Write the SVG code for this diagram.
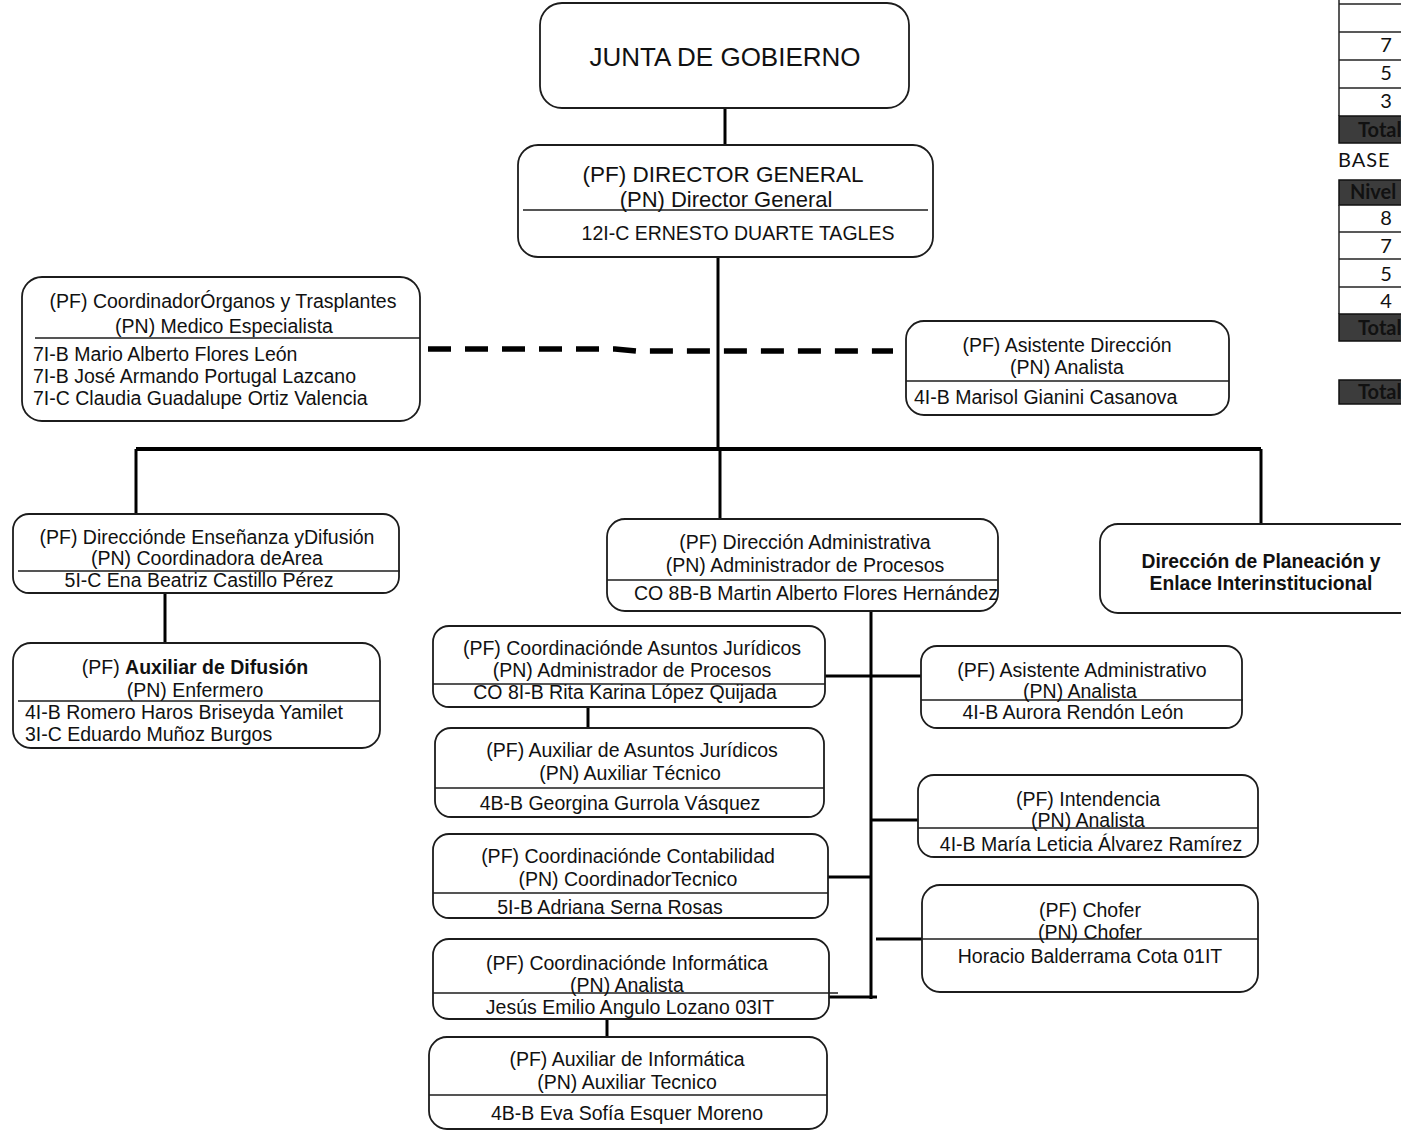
<svg xmlns="http://www.w3.org/2000/svg" width="1401" height="1130" viewBox="0 0 1401 1130">
<style>
.box{fill:#fff;stroke:#1c1c1c;stroke-width:1.8}
.dv{stroke:#1c1c1c;stroke-width:1.6}
text{font-family:"Liberation Sans",Arial,sans-serif;font-size:19.5px;fill:#111}
.c{text-anchor:middle}
.b{font-weight:bold}
.conn line,.conn polyline{stroke:#000;stroke-width:3;fill:none}
.tb text{font-family:Lato,"Open Sans",sans-serif;font-size:20px;fill:#111}
.tb .dk{fill:#3c3c3c;stroke:#111;stroke-width:1.5}
.tb .ln{stroke:#222;stroke-width:1.5}
</style>
<rect width="1401" height="1130" fill="#fff"/>

<g id="connectors" class="conn">
<line x1="725" y1="108" x2="725" y2="145"/>
<line x1="718" y1="257" x2="718" y2="449"/>
<line x1="136" y1="449" x2="1261" y2="449" style="stroke-width:4"/>
<line x1="136" y1="449" x2="136" y2="514"/>
<line x1="720" y1="449" x2="720" y2="519"/>
<line x1="1261" y1="449" x2="1261" y2="524"/>
<polyline points="428,349 615,349 637,351 893,351" style="stroke-width:5.5;stroke-dasharray:23 14"/>
<line x1="165" y1="593" x2="165" y2="643"/>
<line x1="871" y1="611" x2="871" y2="999"/>
<line x1="825" y1="676" x2="921" y2="676"/>
<line x1="588" y1="707" x2="588" y2="728"/>
<line x1="871" y1="820" x2="918" y2="820"/>
<line x1="828" y1="877" x2="871" y2="877"/>
<line x1="876" y1="939" x2="922" y2="939"/>
<line x1="829" y1="997" x2="877" y2="997"/>
<line x1="607" y1="1019" x2="607" y2="1037"/>
</g>

<g id="junta">
<rect class="box" x="540" y="3" width="369" height="105" rx="22"/>
<text class="c" x="725" y="66" style="font-size:26px">JUNTA DE GOBIERNO</text>
</g>

<g id="director-general">
<rect class="box" x="518" y="145" width="415" height="112" rx="20"/>
<line class="dv" x1="523" y1="210" x2="928" y2="210"/>
<text class="c" x="723" y="182" style="font-size:22.5px">(PF) DIRECTOR GENERAL</text>
<text class="c" x="726" y="207" style="font-size:22px">(PN) Director General</text>
<text class="c" x="738" y="240">12I-C ERNESTO DUARTE TAGLES</text>
</g>

<g id="organos">
<rect class="box" x="22" y="277" width="398" height="144" rx="20"/>
<line class="dv" x1="35" y1="338" x2="420" y2="338"/>
<text class="c" x="223" y="308">(PF) CoordinadorÓrganos y Trasplantes</text>
<text class="c" x="224" y="333">(PN) Medico Especialista</text>
<text x="33" y="361">7I-B Mario Alberto Flores León</text>
<text x="33" y="383">7I-B José Armando Portugal Lazcano</text>
<text x="33" y="405">7I-C Claudia Guadalupe Ortiz Valencia</text>
</g>

<g id="asistente-direccion">
<rect class="box" x="906" y="321" width="323" height="94" rx="18"/>
<line class="dv" x1="906" y1="381" x2="1229" y2="381"/>
<text class="c" x="1067" y="352">(PF) Asistente Dirección</text>
<text class="c" x="1067" y="374">(PN) Analista</text>
<text x="914" y="404">4I-B Marisol Gianini Casanova</text>
</g>

<g id="ensenanza">
<rect class="box" x="13" y="514" width="386" height="79" rx="16"/>
<line class="dv" x1="18" y1="571" x2="400" y2="571"/>
<text class="c" x="207" y="544">(PF) Direcciónde Enseñanza yDifusión</text>
<text class="c" x="207" y="565">(PN) Coordinadora deArea</text>
<text class="c" x="199" y="587">5I-C Ena Beatriz Castillo Pérez</text>
</g>

<g id="auxiliar-difusion">
<rect class="box" x="13" y="643" width="367" height="105" rx="18"/>
<line class="dv" x1="18" y1="701" x2="380" y2="701"/>
<text class="c" x="195" y="674">(PF) <tspan class="b">Auxiliar de Difusión</tspan></text>
<text class="c" x="195" y="697">(PN) Enfermero</text>
<text x="25" y="719">4I-B Romero Haros Briseyda Yamilet</text>
<text x="25" y="741">3I-C Eduardo Muñoz Burgos</text>
</g>

<g id="direccion-administrativa">
<rect class="box" x="607" y="519" width="391" height="92" rx="18"/>
<line class="dv" x1="607" y1="580" x2="998" y2="580"/>
<text class="c" x="805" y="549">(PF) Dirección Administrativa</text>
<text class="c" x="805" y="572">(PN) Administrador de Procesos</text>
<text class="c" x="816" y="600">CO 8B-B Martin Alberto Flores Hernández</text>
</g>

<g id="planeacion">
<rect class="box" x="1100" y="524" width="330" height="89" rx="18"/>
<text class="c b" x="1261" y="568" style="font-size:19.3px">Dirección de Planeación y</text>
<text class="c b" x="1261" y="590" style="font-size:19.3px">Enlace Interinstitucional</text>
</g>

<g id="asuntos-juridicos">
<rect class="box" x="433" y="626" width="392" height="81" rx="16"/>
<line class="dv" x1="433" y1="684" x2="825" y2="684"/>
<text class="c" x="632" y="655">(PF) Coordinaciónde Asuntos Jurídicos</text>
<text class="c" x="632" y="677">(PN) Administrador de Procesos</text>
<text class="c" x="625" y="699">CO 8I-B Rita Karina López Quijada</text>
</g>

<g id="auxiliar-juridicos">
<rect class="box" x="435" y="728" width="389" height="89" rx="16"/>
<line class="dv" x1="435" y1="788" x2="824" y2="788"/>
<text class="c" x="632" y="757">(PF) Auxiliar de Asuntos Jurídicos</text>
<text class="c" x="630" y="780">(PN) Auxiliar Técnico</text>
<text class="c" x="620" y="810">4B-B Georgina Gurrola Vásquez</text>
</g>

<g id="contabilidad">
<rect class="box" x="433" y="834" width="395" height="84" rx="16"/>
<line class="dv" x1="433" y1="893" x2="828" y2="893"/>
<text class="c" x="628" y="863">(PF) Coordinaciónde Contabilidad</text>
<text class="c" x="628" y="886">(PN) CoordinadorTecnico</text>
<text class="c" x="610" y="914">5I-B Adriana Serna Rosas</text>
</g>

<g id="informatica">
<rect class="box" x="433" y="939" width="396" height="80" rx="16"/>
<line class="dv" x1="433" y1="993" x2="838" y2="993"/>
<text class="c" x="627" y="970">(PF) Coordinaciónde Informática</text>
<text class="c" x="627" y="992">(PN) Analista</text>
<text class="c" x="630" y="1014">Jesús Emilio Angulo Lozano 03IT</text>
</g>

<g id="auxiliar-informatica">
<rect class="box" x="429" y="1037" width="398" height="92" rx="18"/>
<line class="dv" x1="429" y1="1095" x2="827" y2="1095"/>
<text class="c" x="627" y="1066">(PF) Auxiliar de Informática</text>
<text class="c" x="627" y="1089">(PN) Auxiliar Tecnico</text>
<text class="c" x="627" y="1120">4B-B Eva Sofía Esquer Moreno</text>
</g>

<g id="asistente-administrativo">
<rect class="box" x="921" y="646" width="321" height="82" rx="16"/>
<line class="dv" x1="921" y1="700" x2="1243" y2="700"/>
<text class="c" x="1082" y="677">(PF) Asistente Administrativo</text>
<text class="c" x="1080" y="698">(PN) Analista</text>
<text class="c" x="1073" y="719">4I-B Aurora Rendón León</text>
</g>

<g id="intendencia">
<rect class="box" x="918" y="775" width="340" height="82" rx="16"/>
<line class="dv" x1="918" y1="828" x2="1258" y2="828"/>
<text class="c" x="1088" y="806">(PF) Intendencia</text>
<text class="c" x="1088" y="827">(PN) Analista</text>
<text class="c" x="1091" y="851">4I-B María Leticia Álvarez Ramírez</text>
</g>

<g id="chofer">
<rect class="box" x="922" y="885" width="336" height="107" rx="18"/>
<line class="dv" x1="922" y1="939" x2="1258" y2="939"/>
<text class="c" x="1090" y="917">(PF) Chofer</text>
<text class="c" x="1090" y="939">(PN) Chofer</text>
<text class="c" x="1090" y="963">Horacio Balderrama Cota 01IT</text>
</g>

<g id="tablas" class="tb">
<line class="ln" x1="1339" y1="0" x2="1339" y2="116"/>
<line class="ln" x1="1339" y1="4" x2="1401" y2="4"/>
<line class="ln" x1="1339" y1="32" x2="1401" y2="32"/>
<line class="ln" x1="1339" y1="60" x2="1401" y2="60"/>
<line class="ln" x1="1339" y1="88" x2="1401" y2="88"/>
<rect class="dk" x="1339" y="116" width="80" height="27"/>
<text x="1386" y="52" text-anchor="middle">7</text>
<text x="1386" y="80" text-anchor="middle">5</text>
<text x="1386" y="108" text-anchor="middle">3</text>
<text x="1358" y="137" font-weight="bold">Total</text>

<text x="1338" y="167" letter-spacing="1">BASE</text>
<rect class="dk" x="1339" y="180" width="80" height="25"/>
<text x="1350" y="199" font-weight="bold">Nivel</text>
<line class="ln" x1="1339" y1="205" x2="1339" y2="314"/>
<line class="ln" x1="1339" y1="232" x2="1401" y2="232"/>
<line class="ln" x1="1339" y1="259" x2="1401" y2="259"/>
<line class="ln" x1="1339" y1="287" x2="1401" y2="287"/>
<text x="1386" y="225" text-anchor="middle">8</text>
<text x="1386" y="253" text-anchor="middle">7</text>
<text x="1386" y="281" text-anchor="middle">5</text>
<text x="1386" y="308" text-anchor="middle">4</text>
<rect class="dk" x="1339" y="314" width="80" height="27"/>
<text x="1358" y="335" font-weight="bold">Total</text>

<rect class="dk" x="1339" y="380" width="80" height="24"/>
<text x="1358" y="399" font-weight="bold">Total</text>
</g>
</svg>
